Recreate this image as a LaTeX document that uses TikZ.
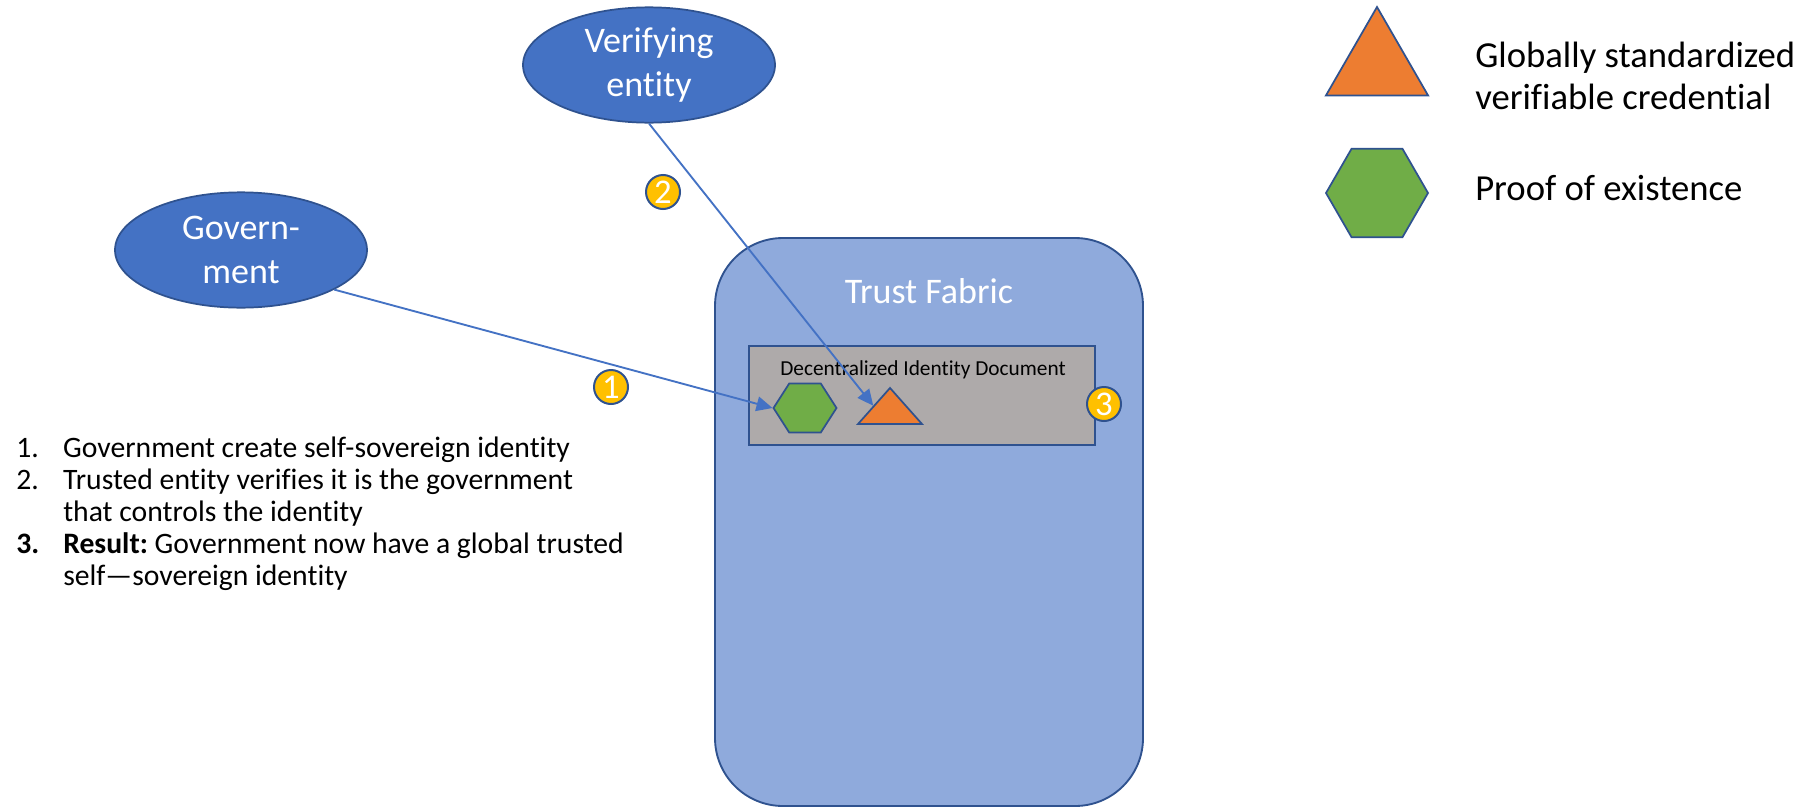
\documentclass[tikz,border=0pt]{standalone}
\usepackage{fontspec}
\setmainfont{Carlito}[Ligatures={TeX,NoCommon}]
\usetikzlibrary{shapes.geometric,arrows.meta}
\definecolor{entblue}{HTML}{4472C4}
\definecolor{edgeblue}{HTML}{2F528F}
\definecolor{fabblue}{HTML}{8FAADC}
\definecolor{didgray}{HTML}{AEAAAA}
\definecolor{credorange}{HTML}{ED7D31}
\definecolor{proofgreen}{HTML}{70AD47}
\definecolor{numyellow}{HTML}{FFC000}
\begin{document}
\begin{tikzpicture}[x=0.75pt,y=-0.75pt,
  ent/.style={ellipse, fill=entblue, draw=edgeblue, line width=1.3pt, inner sep=0pt, minimum width=189pt, minimum height=86.5pt, text=white, align=center, font=\fontsize{27}{33}\selectfont},
  num/.style={circle, fill=numyellow, draw=edgeblue, line width=1.5pt, inner sep=0pt, minimum size=25.5pt, text=white, font=\fontsize{26}{26}\selectfont},
  hex/.style={regular polygon, regular polygon sides=6, fill=proofgreen, draw=edgeblue, line width=1.3pt, inner sep=0pt},
  tri/.style={regular polygon, regular polygon sides=3, fill=credorange, draw=edgeblue, line width=1.3pt, inner sep=0pt},
  link/.style={entblue, line width=1.4pt, -{Triangle[length=12pt,width=11pt]}}]
\fill[white] (0,0) rectangle (1809,807);
\useasboundingbox (0,0) rectangle (1809,807);
\node[rectangle, rounded corners=51pt, fill=fabblue, draw=edgeblue, line width=1.4pt, minimum width=321pt, minimum height=426pt] (fab) at (929,522) {};
\node[text=white, inner sep=0pt, anchor=base, font=\fontsize{27}{33}\selectfont] (fabtitle) at (929,303) {Trust Fabric};
\node[rectangle, fill=didgray, draw=edgeblue, line width=1.4pt, minimum width=259.5pt, minimum height=74.25pt] (did) at (922,395.5) {};
\node[inner sep=0pt, anchor=base, font=\fontsize{16}{19}\selectfont] (didtitle) at (923,375) {Decentralized Identity Document};
\node[hex, minimum size=47.25pt, yscale=0.9, transform shape] (hex0) at (805,408) {};
\node[tri, minimum size=55.4pt, yscale=0.65, transform shape] (tri0) at (890,412) {};
\node[ent] (gov) at (241,250) {Govern-\\ment};
\node[ent] (ver) at (649,65) {Verifying\\entity};
\draw[link] (gov.-23.5) -- (hex0.west);
\draw[link] (ver.south) -- (tri0.150);
\node[num] (num1) at (611,387) {1};
\node[num] (num2) at (663,192) {2};
\node[num] (num3) at (1104,404) {3};
\node[tri, minimum size=88.5pt] (tri1) at (1377,66) {};
\node[hex, minimum size=76.5pt] (hex1) at (1377,193) {};
\node[inner sep=0pt, anchor=west, align=left, font=\fontsize{27.5}{32}\selectfont] (credtext) at (1475,76) {Globally standardized\\verifiable credential};
\node[inner sep=0pt, anchor=base west, font=\fontsize{27.5}{32}\selectfont] (prooftext) at (1475,200) {Proof of existence};
\node[anchor=north west, inner sep=0pt, font=\fontsize{22.25}{24}\selectfont] (steps) at (16,435) {\begin{tabular}{@{}p{35.25pt}@{}l@{}}
1. & Government create self-sovereign identity\\
2. & Trusted entity verifies it is the government\\
 & that controls the identity\\
\textbf{3.} & \textbf{Result:}~Government now have a global trusted\\
 & self—sovereign identity
\end{tabular}};
\end{tikzpicture}
\end{document}
